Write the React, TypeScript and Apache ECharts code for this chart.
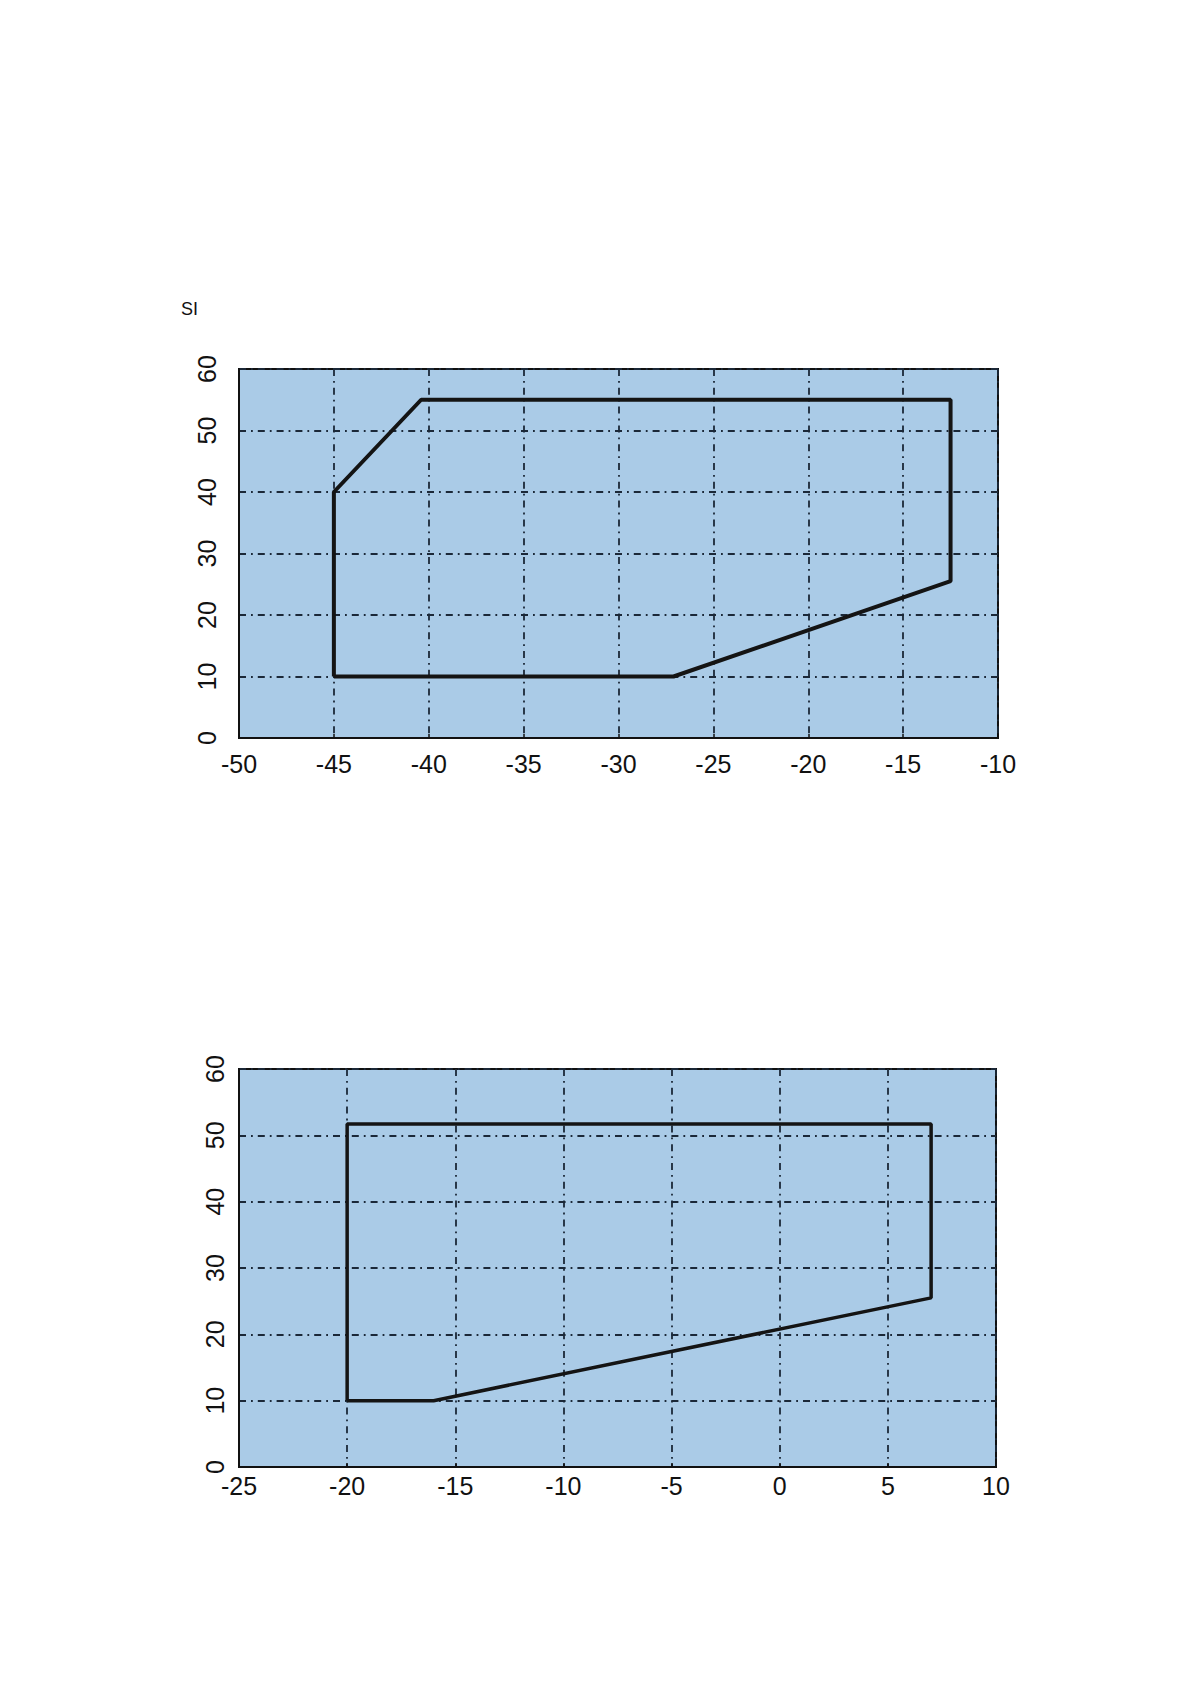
import React, { useEffect, useRef } from "react";
import * as echarts from "echarts";

// Top chart (outline of operating range)
const topX = [-45, -45, -40.4, -12.5, -12.5, -27.1, -45];
const topY = [10, 40, 55, 55, 25.5, 10, 10];
const topXMin = -50;
const topXMax = -10;

// Bottom chart
const botX = [-20, -20, 7, 7, -16, -20];
const botY = [10, 51.7, 51.7, 25.5, 10, 10];
const botXMin = -25;
const botXMax = 10;

const yMin = 0;
const yMax = 60;
const titleText = "SI";

const FONT = "Liberation Sans, Arial, sans-serif";
const GRID_COLOR = "#1b2838";
const FILL = "#aacbe7";

function zip(xs: number[], ys: number[]) {
  return xs.map((x, i) => [x, ys[i]]);
}

export default function App() {
  const ref = useRef<HTMLDivElement>(null);
  useEffect(() => {
    if (!ref.current) return;
    const chart = echarts.init(ref.current, undefined, { renderer: "svg" });
    const splitLine = {
      show: true,
      lineStyle: { color: GRID_COLOR, width: 1.8, type: [7, 5, 1.8, 5] as any },
    };
    const xAxisBase = (min: number, max: number, gridIndex: number, margin: number) => ({
      type: "value",
      gridIndex,
      min,
      max,
      interval: 5,
      axisLine: { show: true, onZero: false, lineStyle: { color: "#111", width: 2 } },
      axisTick: { show: true, inside: true, length: 4, lineStyle: { color: "#111", width: 1.5 } },
      axisLabel: { color: "#111", fontSize: 25, fontFamily: FONT, margin, showMinLabel: true, showMaxLabel: true },
      splitLine,
    });
    const yAxisBase = (gridIndex: number, margin: number) => ({
      type: "value",
      gridIndex,
      min: yMin,
      max: yMax,
      interval: 10,
      axisLine: { show: true, onZero: false, lineStyle: { color: "#111", width: 2 } },
      axisTick: { show: false },
      axisLabel: { color: "#111", fontSize: 25, fontFamily: FONT, margin, rotate: 90 },
      splitLine,
    });
    chart.setOption({
      animation: false,
      backgroundColor: "#ffffff",
      title: {
        text: titleText,
        left: 176,
        top: 295,
        textStyle: { fontSize: 18, fontWeight: "normal", fontFamily: FONT, color: "#111" },
      },
      grid: [
        {
          left: 239,
          top: 369,
          width: 759,
          height: 369,
          show: true,
          backgroundColor: FILL,
          borderColor: "#111",
          borderWidth: 2,
        },
        {
          left: 239,
          top: 1069,
          width: 757,
          height: 398,
          show: true,
          backgroundColor: FILL,
          borderColor: "#111",
          borderWidth: 2,
        },
      ],
      xAxis: [xAxisBase(topXMin, topXMax, 0, 13), xAxisBase(botXMin, botXMax, 1, 6)],
      yAxis: [yAxisBase(0, 20), yAxisBase(1, 12)],
      series: [
        {
          type: "line",
          xAxisIndex: 0,
          yAxisIndex: 0,
          data: zip(topX, topY),
          symbol: "none",
          lineStyle: { color: "#141414", width: 4 },
          z: 5,
        },
        {
          type: "line",
          xAxisIndex: 1,
          yAxisIndex: 1,
          data: zip(botX, botY),
          symbol: "none",
          lineStyle: { color: "#141414", width: 3.5 },
          z: 5,
        },
      ],
    });
    return () => chart.dispose();
  }, []);
  return (
    <div
      ref={ref}
      style={{ position: "absolute", left: 0, top: 0, width: 1191, height: 1685 }}
    />
  );
}
